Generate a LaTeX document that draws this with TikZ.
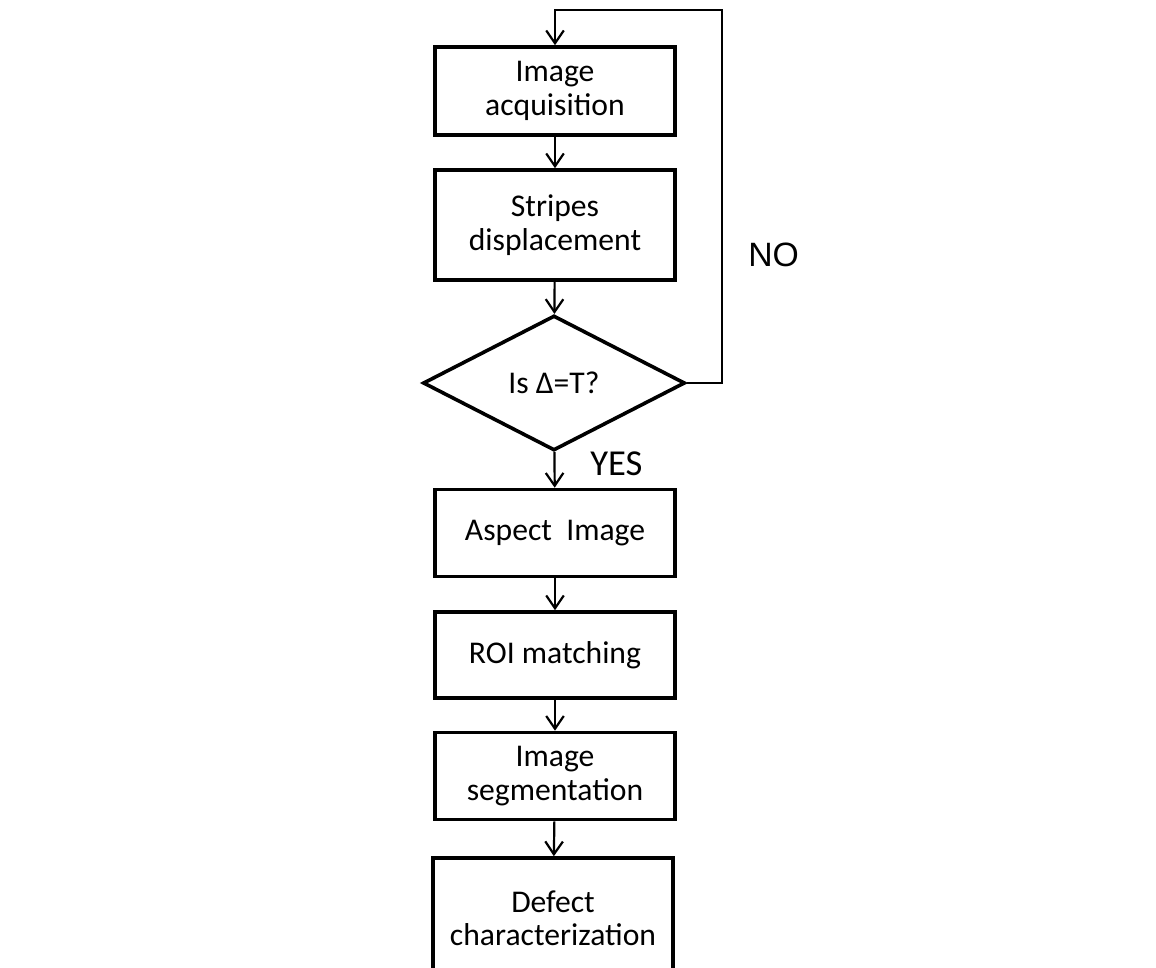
\documentclass[tikz,border=0pt]{standalone}
\usepackage{fontspec}
\setmainfont{Carlito}
\newfontfamily\arialfont{Liberation Sans}
\usetikzlibrary{shapes.geometric,arrows.meta}
\begin{document}
\begin{tikzpicture}[
  x=0.25mm, y=-0.25mm,
  stage/.style={rectangle, draw=black, line width=0.9mm, fill=white,
                minimum width=60mm, inner sep=0pt, align=center,
                font=\fontsize{22.5}{23.8}\selectfont},
  test/.style={diamond, draw=black, line width=0.9mm, fill=white,
               minimum width=65.5mm, minimum height=33.75mm, inner sep=0pt,
               font=\fontsize{22.5}{23.8}\selectfont},
  flow/.style={line width=0.55mm, -{Straight Barb[length=3.2mm,width=4.4mm]}},
  answer/.style={inner sep=0pt, font=\fontsize{26}{30}\selectfont}
]
\useasboundingbox (0,0) rectangle (1156,968);
% Capture loop
\node[stage, minimum height=22mm]   (acq)   at (555,  91) {Image\\acquisition};
\node[stage, minimum height=27.5mm] (shift) at (555, 225) {Stripes\\displacement};
\node[test]                         (check) at (554, 383) {Is Δ=T?};
% Processing chain
\node[stage, minimum height=21.75mm] (aspect) at (555, 533) {Aspect\ \ Image};
\node[stage, minimum height=21.5mm]  (roi)    at (555, 655) {ROI matching};
\node[stage, minimum height=21.75mm] (seg)    at (555, 776) {Image\\segmentation};
\node[stage, minimum height=30mm]    (defect) at (553, 918) {Defect\\characterization};
% Loop corners
\coordinate (back) at (722, 383);
\coordinate (top)  at (722, 10);
\coordinate (over) at (555, 10);
% Answers
\node[answer, font=\fontsize{24}{28}\selectfont\arialfont, anchor=west] (no)  at (748, 255) {NO};
\node[answer, anchor=west] (yes) at (590, 464) {YES};
% Arrows
\draw[flow] (acq) -- (shift);
\draw[flow] (shift) -- (check);
\draw[flow] (check) -- (aspect);
\draw[flow] (aspect) -- (roi);
\draw[flow] (roi) -- (seg);
\draw[flow] (seg) -- (defect);
\draw[flow] (check.east) -- (back) -- (top) -- (over) -- (acq);
\end{tikzpicture}
\end{document}
